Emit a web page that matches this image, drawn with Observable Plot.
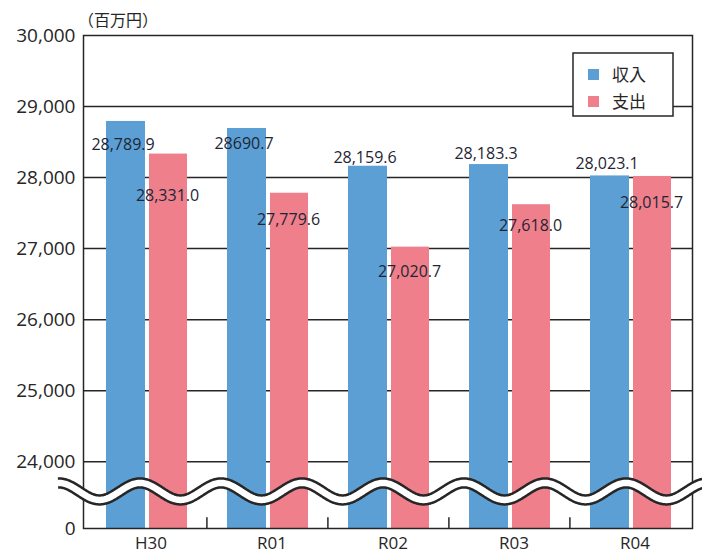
<!DOCTYPE html>
<html>
<head>
<meta charset="utf-8">
<script src="https://cdn.jsdelivr.net/npm/d3@7"></script>
<script src="https://cdn.jsdelivr.net/npm/@observablehq/plot@0.6"></script>
<style>
  html, body { margin: 0; padding: 0; background: #fff; }
  #chart svg { display: block; }
</style>
</head>
<body>
<div id="chart"></div>
<script>
// ---- data ----
const categories = ["H30", "R01", "R02", "R03", "R04"];
const seriesNames = ["収入", "支出"];
const income = [28789.9, 28690.7, 28159.6, 28183.3, 28023.1];
const expense = [28331.0, 27779.6, 27020.7, 27618.0, 28015.7];
const incomeLabels = ["28,789.9", "28690.7", "28,159.6", "28,183.3", "28,023.1"];
const expenseLabels = ["28,331.0", "27,779.6", "27,020.7", "27,618.0", "28,015.7"];
const yTickValues = [23060, 24000, 25000, 26000, 27000, 28000, 29000, 30000];
const yTickLabels = ["0", "24,000", "25,000", "26,000", "27,000", "28,000", "29,000", "30,000"];
const gridValues = [24000, 25000, 26000, 27000, 28000, 29000];
const unitLabel = "（百万円）";

// ---- layout / style ----
const ZERO = 23060;        // visual position of "0" below the axis break
const BREAK = 23575;       // centre of the wavy break line
const colors = ["#5b9fd5", "#ee7f8b"];
const ink = "#262626";
const labelInk = "#1e2634";
const incomeDy = [23.6, 15.6, -8, -10.3, -12.2];
const expenseDy = [41.6, 26.4, 25, 21.3, 26.3];

const rows = categories.map((c, i) => ({cat: c, inc: income[i], exp: expense[i]}));

function decorations(index, scales, values, dims) {
  const g = d3.create("svg:g").attr("text-anchor", "start");
  // wavy axis break
  const yc = scales.y(BREAK);
  const pts = d3.range(58, dims.width + 2, 1).map(x => [x, yc - 8.5 * Math.cos(2 * Math.PI * (x - 140) / 81)]);
  const line = d3.line();
  g.append("path").attr("d", line(pts)).attr("fill", "none").attr("stroke", ink).attr("stroke-width", 11.5);
  g.append("path").attr("d", line(pts)).attr("fill", "none").attr("stroke", "#fff").attr("stroke-width", 6.5);
  // legend
  const lx = 573, ly = 53;
  g.append("rect").attr("x", lx).attr("y", ly).attr("width", 100).attr("height", 63)
    .attr("fill", "#fff").attr("stroke", ink).attr("stroke-width", 1.5);
  seriesNames.forEach((name, i) => {
    const cy = ly + 22 + i * 27;
    g.append("rect").attr("x", lx + 15).attr("y", cy - 6).attr("width", 11).attr("height", 11).attr("fill", colors[i]);
    g.append("text").attr("x", lx + 39).attr("y", cy).attr("dy", "0.36em").attr("text-anchor", "start")
      .attr("font-family", "'Noto Sans CJK JP', sans-serif").attr("font-size", 17).attr("fill", ink).text(name);
  });
  // unit label
  g.append("text").attr("x", 78).attr("y", 20).attr("dy", "0.36em").attr("text-anchor", "start")
    .attr("font-family", "'Noto Sans CJK JP', sans-serif").attr("font-size", 16).attr("fill", ink).text(unitLabel);
  return g.node();
}

const labelMarks = [];
categories.forEach((c, i) => {
  labelMarks.push(Plot.text([0], {x: () => c, y: () => income[i], text: () => incomeLabels[i],
    dx: -23, dy: incomeDy[i], fontSize: 16, fill: labelInk}));
  labelMarks.push(Plot.text([0], {x: () => c, y: () => expense[i], text: () => expenseLabels[i],
    dx: 21.5, dy: expenseDy[i], fontSize: 16, fill: labelInk}));
});

const chart = Plot.plot({
  width: 702,
  height: 555,
  marginTop: 35,
  marginBottom: 27,
  marginLeft: 83,
  marginRight: 10,
  style: {fontFamily: "'Open Sans', sans-serif", background: "#fff", overflow: "visible", color: ink},
  x: {type: "band", domain: categories, padding: 0, label: null},
  y: {domain: [ZERO, 30000], label: null},
  marks: [
    Plot.ruleY(gridValues, {stroke: ink, strokeWidth: 1.5}),
    Plot.barY(rows, {x: "cat", y1: ZERO, y2: "inc", fill: colors[0], insetLeft: 21, insetRight: 61}),
    Plot.barY(rows, {x: "cat", y1: ZERO, y2: "exp", fill: colors[1], insetLeft: 64, insetRight: 19}),
    Plot.frame({stroke: ink, strokeWidth: 1.5}),
    Plot.ruleX(categories.slice(0, 4), {x: d => d, y1: ZERO, y2: ZERO + 150, dx: 60.9, stroke: ink, strokeWidth: 1.5}),
    Plot.axisY({ticks: yTickValues, tickSize: 0, tickPadding: 8, fontSize: 19, fill: ink,
      tickFormat: d => yTickLabels[yTickValues.indexOf(d)], label: null}),
    Plot.axisX({tickSize: 0, tickPadding: 8, fontSize: 17, fill: ink, dx: 5, label: null}),
    ...labelMarks,
    decorations
  ]
});
document.getElementById("chart").appendChild(chart);
</script>
</body>
</html>
